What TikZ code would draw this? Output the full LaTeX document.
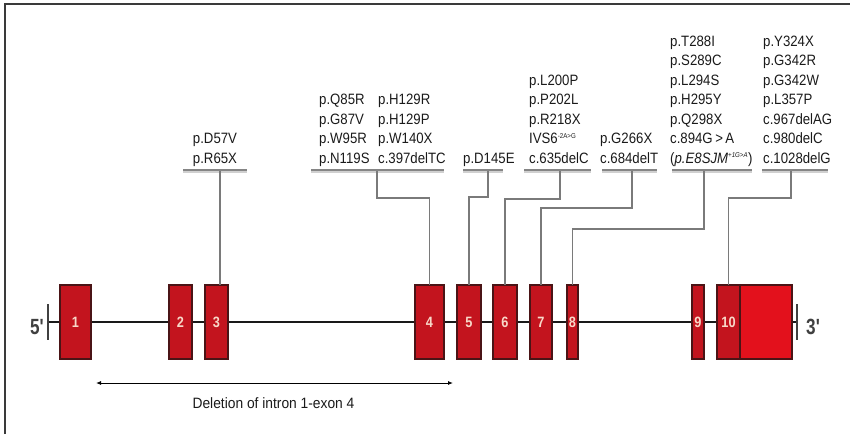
\documentclass[tikz,border=0pt]{standalone}
\usepackage{fontspec}
\setmainfont{Liberation Sans}[FakeStretch=0.88]
\newfontfamily\primefont{Liberation Sans}[FakeStretch=0.78]
\newfontfamily\delfont{Liberation Sans}[FakeStretch=0.92]
\newfontfamily\exfont{Liberation Sans}[FakeStretch=0.85]
\usetikzlibrary{arrows.meta}
\definecolor{exonred}{HTML}{C3141E}
\definecolor{exonline}{HTML}{4A1416}
\definecolor{utrred}{HTML}{E3111C}
\definecolor{exontext}{HTML}{F8D8C8}
\definecolor{conngray}{HTML}{7A7A7A}
\definecolor{bargray}{HTML}{858585}
\definecolor{barshade}{HTML}{D0D0D0}
\definecolor{framegray}{HTML}{3A3A3A}
\definecolor{primegray}{HTML}{404040}
\definecolor{textblack}{HTML}{1A1A1A}
\begin{document}
\begin{tikzpicture}[x=1pt,y=-1pt,
  exon/.style={draw=exonline, fill=exonred, line width=1.1pt, minimum height=74pt,
    inner sep=0pt, outer sep=0pt, text=exontext, font=\exfont\fontsize{15}{15}\selectfont\bfseries},
  utr/.style={exon, fill=utrred},
  mut/.style={anchor=base west, inner sep=0pt, text=textblack, font=\fontsize{15}{19.5}\selectfont},
  barbox/.style={fill=bargray, minimum height=2.6pt, inner sep=0pt, outer sep=0pt},
  conn/.style={draw=conngray, line width=1.3pt},
  backbone/.style={draw=black!90, line width=2.4pt},
  tickline/.style={draw=primegray, line width=2pt},
  prime/.style={inner sep=0pt, text=primegray, font=\primefont\fontsize{22}{22}\selectfont\bfseries},
  framepath/.style={draw=framegray, line width=2pt},
  delarrow/.style={draw=black, line width=0.9pt, {Latex[length=5pt,width=4pt]}-{Latex[length=5pt,width=4pt]}},
  dellabel/.style={anchor=base, inner sep=0pt, text=textblack, font=\delfont\fontsize{15}{15}\selectfont}
]
\useasboundingbox (0,0) rectangle (850,434);
% frame
\draw[framepath] (5,434) -- (5,4) -- (850,4);

% backbone and ends
\coordinate (p5) at (48,322);
\coordinate (p3) at (797,322);
\draw[backbone] (p5) -- (p3);
\draw[tickline] ([yshift=18pt]p5) -- ([yshift=-18pt]p5);
\draw[tickline] ([yshift=18pt]p3) -- ([yshift=-18pt]p3);
\node[prime, anchor=east] (l5) at (44,327) {5'};
\node[prime, anchor=west] (l3) at (806,327) {3'};

% exons
\node[exon, minimum width=31pt] (e1) at (75.5,322) {1};
\node[exon, minimum width=23pt] (e2) at (180.5,322) {2};
\node[exon, minimum width=23pt] (e3) at (216.5,322) {3};
\node[exon, minimum width=29pt] (e4) at (429.5,322) {4};
\node[exon, minimum width=24pt] (e5) at (469,322) {5};
\node[exon, minimum width=24pt] (e6) at (505,322) {6};
\node[exon, minimum width=22pt] (e7) at (541,322) {7};
\node[exon, minimum width=11pt] (e8) at (572.5,322) {8};
\node[exon, minimum width=12pt] (e9) at (698,322) {9};
\node[utr, minimum width=52pt] (u10) at (766,322) {};
\node[exon, minimum width=23pt] (e10) at (728.5,322) {10};

% mutation labels
\node[mut, anchor=base] (m1) at (215,163) {\begin{tabular}[b]{@{}c@{}}p.D57V\\p.R65X\end{tabular}};
\node[mut] (m2a) at (319,163) {\begin{tabular}[b]{@{}l@{}}p.Q85R\\p.G87V\\p.W95R\\p.N119S\end{tabular}};
\node[mut] (m2b) at (378,163) {\begin{tabular}[b]{@{}l@{}}p.H129R\\p.H129P\\p.W140X\\c.397delTC\end{tabular}};
\node[mut] (m3) at (463,163) {\begin{tabular}[b]{@{}l@{}}p.D145E\end{tabular}};
\node[mut] (m4) at (529,163) {\begin{tabular}[b]{@{}l@{}}p.L200P\\p.P202L\\p.R218X\\IVS6\textsuperscript{\fontsize{7}{7}\selectfont -2A>G}\\c.635delC\end{tabular}};
\node[mut] (m5) at (600,163) {\begin{tabular}[b]{@{}l@{}}p.G266X\\c.684delT\end{tabular}};
\node[mut] (m6) at (670,163) {\begin{tabular}[b]{@{}l@{}}p.T288I\\p.S289C\\p.L294S\\p.H295Y\\p.Q298X\\c.894G\,>\,A\\(\textit{p.E8SJM}\textsuperscript{\fontsize{7}{7}\selectfont\itshape +1G>A})\end{tabular}};
\node[mut] (m7) at (763,163) {\begin{tabular}[b]{@{}l@{}}p.Y324X\\p.G342R\\p.G342W\\p.L357P\\c.967delAG\\c.980delC\\c.1028delG\end{tabular}};

% bars
\node[barbox, minimum width=64pt] (b1) at (215,170) {};
\node[barbox, minimum width=133pt] (b2) at (377.5,170) {};
\node[barbox, minimum width=40pt] (b3) at (483,170) {};
\node[barbox, minimum width=67pt] (b4) at (557.5,170) {};
\node[barbox, minimum width=55pt] (b5) at (629.5,170) {};
\node[barbox, minimum width=80pt] (b6) at (712,170) {};
\node[barbox, minimum width=66pt] (b7) at (795,170) {};
\foreach \b in {b1,b2,b3,b4,b5,b6,b7}{
  \fill[barshade] (\b.south west) rectangle ([yshift=-1.8pt]\b.south east);
}

% connectors
\coordinate (k1) at (220,171.3);
\coordinate (k2) at (377,171.3);
\coordinate (k3) at (488,171.3);
\coordinate (k4) at (560,171.3);
\coordinate (k5) at (632,171.3);
\coordinate (k6) at (704,171.3);
\coordinate (k7) at (791,171.3);
\draw[conn] (k1) -- (k1 |- e3.north);
\draw[conn] (k2) -- ++(0,26.7) -| (e4.north);
\draw[conn] (k3) -- ++(0,25.7) -| (e5.north);
\draw[conn] (k4) -- ++(0,27.7) -| (e6.north);
\draw[conn] (k5) -- ++(0,36.7) -| (e7.north);
\draw[conn] (k6) -- ++(0,57.7) -| (e8.north);
\draw[conn] (k7) -- ++(0,26.7) -| (e10.north);

% deletion
\coordinate (da) at (96,383);
\coordinate (db) at (453,383);
\draw[delarrow] (da) -- (db);
\node[dellabel] (dl) at (273.5,408) {Deletion of intron 1-exon 4};
\end{tikzpicture}
\end{document}
